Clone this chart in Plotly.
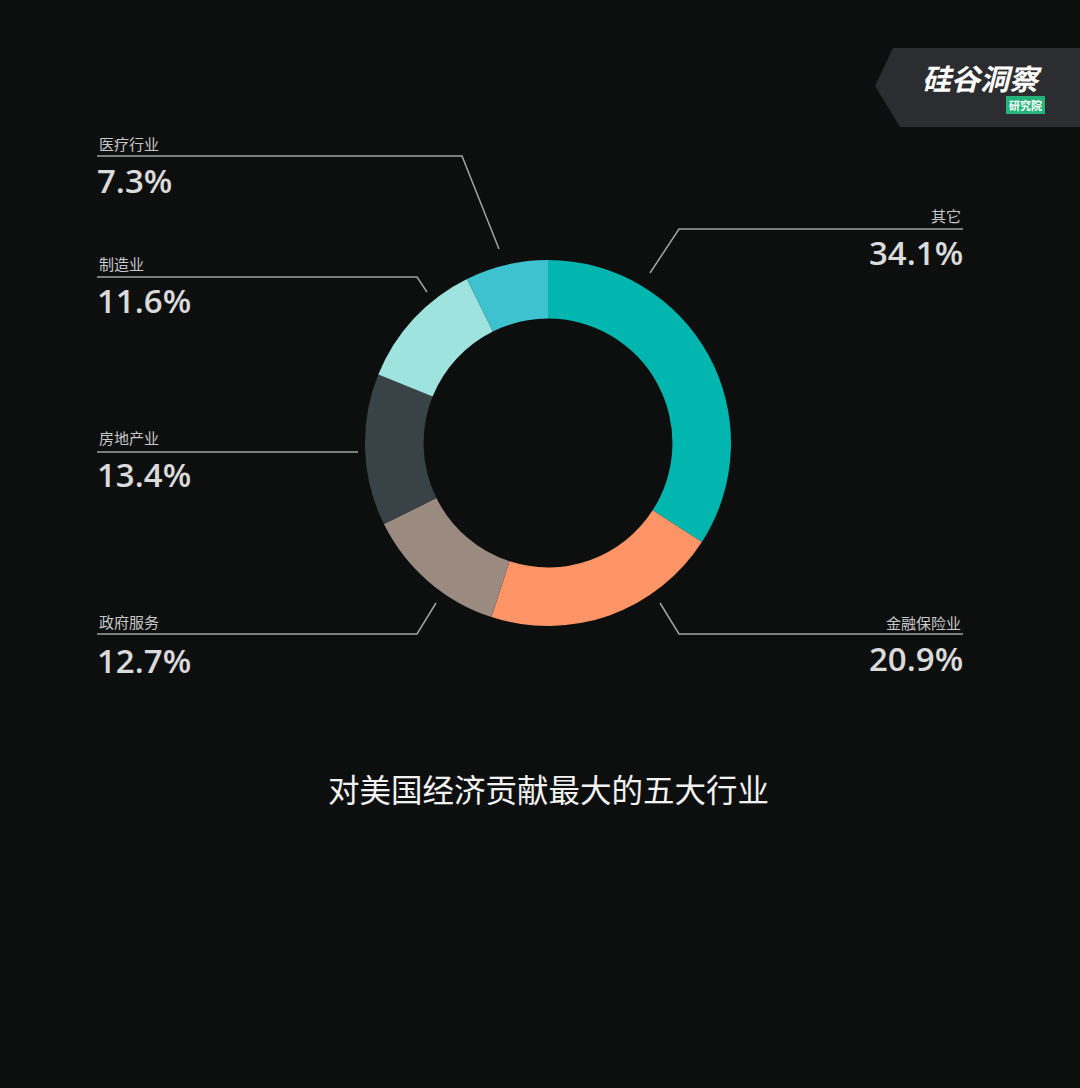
import plotly.graph_objects as go

# data
industries = ["其它", "金融保险业", "政府服务", "房地产业", "制造业", "医疗行业"]
shares = [34.1, 20.9, 12.7, 13.4, 11.6, 7.3]
slice_colors = ["#00b6ae", "#ff9566", "#9a8a80", "#394347", "#9ee3dd", "#3ec2cf"]
title_text = "对美国经济贡献最大的五大行业"

# callout layout (pixel coords, y down): label y, line y, line start/end x, elbow end
callouts = {
    "医疗行业":  dict(side="left",  ly=143, uy=156, py=180, x0=97,  x1=462, ex=499, ey=249),
    "制造业":    dict(side="left",  ly=263, uy=277, py=300, x0=97,  x1=417, ex=427, ey=292),
    "房地产业":  dict(side="left",  ly=437, uy=452, py=474, x0=97,  x1=358, ex=None, ey=None),
    "政府服务":  dict(side="left",  ly=621, uy=634, py=660, x0=97,  x1=417, ex=436, ey=603),
    "其它":      dict(side="right", ly=215, uy=229, py=252, x0=963, x1=679, ex=650, ey=273),
    "金融保险业": dict(side="right", ly=622, uy=634, py=658, x0=963, x1=679, ex=660, ey=603),
}

W, H = 1080, 1088
cx, cy, r = 548, 443, 183

fig = go.Figure()
fig.add_trace(go.Pie(
    labels=industries,
    values=shares,
    hole=0.68,
    sort=False,
    direction="clockwise",
    rotation=0,
    textinfo="none",
    hoverinfo="label+percent",
    marker=dict(colors=slice_colors, line=dict(width=0)),
    domain=dict(x=[(cx - r) / W, (cx + r) / W], y=[(H - cy - r) / H, (H - cy + r) / H]),
    showlegend=False,
))

line_col = "#a3a3a3"
shapes = []
annotations = []
for name, val in zip(industries, shares):
    c = callouts[name]
    path = f"M {c['x0']} {c['uy']} L {c['x1']} {c['uy']}"
    if c["ex"] is not None:
        path += f" L {c['ex']} {c['ey']}"
    shapes.append(dict(type="path", xref="x", yref="y", path=path,
                       line=dict(color=line_col, width=1.5)))
    anchor = "left" if c["side"] == "left" else "right"
    annotations.append(dict(x=c["x0"], y=c["ly"], xref="x", yref="y", text=name,
                            showarrow=False, xanchor=anchor, yanchor="middle",
                            font=dict(family="Noto Sans CJK SC", size=15, color="#c8c8c8")))
    annotations.append(dict(x=c["x0"] + (-2 if anchor == "left" else 2), y=c["py"], xref="x", yref="y",
                            text=f"{val}%", showarrow=False, xanchor=anchor, yanchor="middle",
                            font=dict(family="Open Sans", size=33, weight=650, color="#dadada")))

annotations.append(dict(x=cx, y=788, xref="x", yref="y", text=title_text, showarrow=False,
                        xanchor="center", yanchor="middle",
                        font=dict(family="Noto Sans CJK SC", size=31.5, color="#f2f2f2")))

# logo badge
shapes.append(dict(type="path", xref="x", yref="y", layer="below",
                   path="M 875 86 L 893 48 L 1080 48 L 1080 127 L 900 127 Z",
                   fillcolor="#2c2d30", line=dict(width=0)))
shapes.append(dict(type="rect", xref="x", yref="y", x0=1006, x1=1045, y0=96, y1=114,
                   fillcolor="#27b27b", line=dict(width=0)))
annotations.append(dict(x=982, y=77, xref="x", yref="y", text="<b>硅谷洞察</b>", showarrow=False,
                        xanchor="center", yanchor="middle", borderpad=0,
                        font=dict(family="Noto Sans CJK SC", size=29, color="#ffffff", style="italic")))
annotations.append(dict(x=1025.5, y=105, xref="x", yref="y", text="<b>研究院</b>", showarrow=False,
                        xanchor="center", yanchor="middle", borderpad=0,
                        font=dict(family="Noto Sans CJK SC", size=11, color="#ffffff")))

fig.update_layout(
    width=W, height=H,
    margin=dict(l=0, r=0, t=0, b=0),
    paper_bgcolor="#0d0f0f",
    plot_bgcolor="rgba(0,0,0,0)",
    xaxis=dict(range=[0, W], visible=False, fixedrange=True),
    yaxis=dict(range=[H, 0], visible=False, fixedrange=True),
    shapes=shapes,
    annotations=annotations,
)

fig.write_html("out.html", config={"displayModeBar": False},
               post_script="document.body.style.margin='0';")
